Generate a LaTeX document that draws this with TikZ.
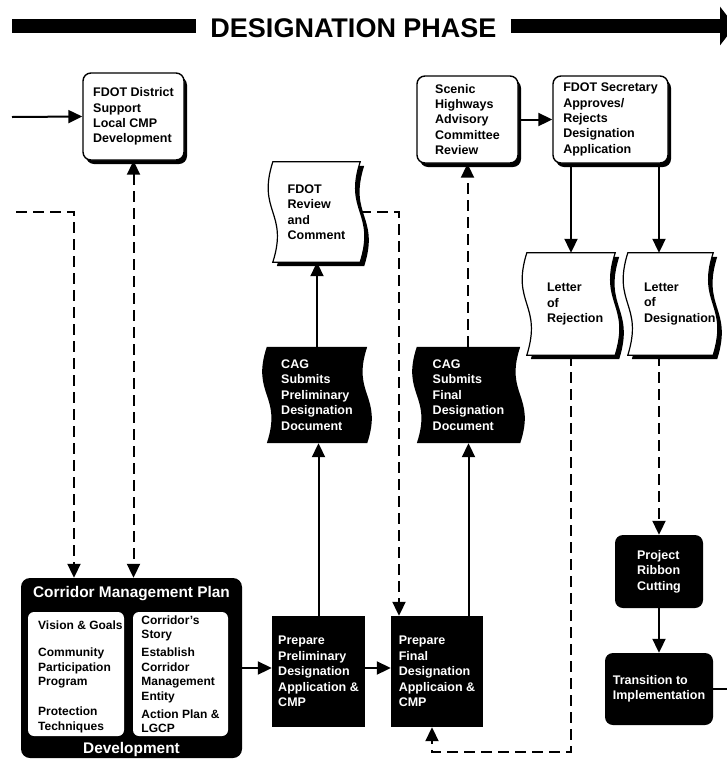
\documentclass[tikz,border=0pt]{standalone}
\usepackage{fontspec}
\setmainfont{Liberation Sans}
\usetikzlibrary{calc,arrows.meta,shadows,backgrounds}

\newcommand{\paperdoc}[3]{%
  \path[#3] let \p1=($(#1.north west)+(#2)$), \p2=($(#1.south east)+(#2)$),
    \p3=($(#1.west)+(#2)$) in
    (\x1,\y1) -- (\x2,\y1)
    .. controls (\x2-16pt,\y3) and (\x2+16pt,\y3) .. (\x2,\y2)
    -- (\x1,\y2)
    .. controls (\x1+16pt,\y3) and (\x1-16pt,\y3) .. (\x1,\y1) -- cycle;}

\tikzset{
  RoundBox/.style={draw, line width=1.4pt, fill=white, rounded corners=8pt,
    inner sep=0pt, align=left,
    drop shadow={shadow xshift=3pt, shadow yshift=-4pt, fill=black, opacity=1}},
  DarkBox/.style={fill=black, text=white, inner sep=0pt, align=left},
  PaperDoc/.style={inner sep=0pt, align=left},
  InnerBox/.style={fill=white, rounded corners=6pt, inner sep=0pt, align=left,
    font=\fontsize{12}{14.5}\selectfont\bfseries},
  FlowEdge/.style={line width=2pt, ->},
  DashEdge/.style={FlowEdge, dash pattern=on 11pt off 6pt},
  TitleBar/.style={line width=14pt},
}

\begin{document}
\begin{tikzpicture}[x=1pt, y=-1pt, >={Triangle[length=14pt,width=13pt]},
    font=\fontsize{12.5}{15.4}\selectfont\bfseries]
\useasboundingbox (0,0) rectangle (727,761);
\clip (0,0) rectangle (727,761);

\node[font=\fontsize{27}{30}\selectfont\bfseries, inner xsep=14pt] (phase) at (353.5,28) {DESIGNATION PHASE};
\coordinate (barleft) at (12,26);
\coordinate (barright) at (735,26);
\draw[TitleBar] (barleft) -- (barleft -| phase.west);
\draw[TitleBar, -{Triangle[length=15pt,width=38pt]}] (barright -| phase.east) -- (barright);

\node[RoundBox, minimum width=101pt, minimum height=87pt] (district) at (133.5,116.5) {FDOT District\\Support\\Local CMP\\Development};
\node[RoundBox, minimum width=101pt, minimum height=87pt] (scenic) at (467.5,119.5) {Scenic\\Highways\\Advisory\\Committee\\Review};
\node[RoundBox, minimum width=115pt, minimum height=87pt] (secretary) at (610.5,119.5) {FDOT Secretary\\Approves/\\Rejects\\Designation\\Application};

\node[PaperDoc, minimum width=87pt, minimum height=100pt] (review) at (316.5,212) {FDOT\\Review\\and\\Comment};
\node[PaperDoc, text=white, minimum width=100pt, minimum height=96pt] (cagprelim) at (317,395) {CAG\\Submits\\Preliminary\\Designation\\Document};
\node[PaperDoc, text=white, minimum width=103pt, minimum height=96pt] (cagfinal) at (468.5,395) {CAG\\Submits\\Final\\Designation\\Document};
\node[PaperDoc, minimum width=88pt, minimum height=102pt, text width=48pt] (rejection) at (571,304) {Letter\\of\\Rejection};
\node[PaperDoc, minimum width=85pt, minimum height=102pt, text width=53pt] (designation) at (670.5,304) {Letter\\of\\Designation};

\node[DarkBox, rounded corners=8pt, minimum width=88pt, minimum height=73pt] (ribbon) at (659,571.5) {Project\\Ribbon\\Cutting};
\node[DarkBox, rounded corners=8pt, minimum width=108pt, minimum height=72pt] (transition) at (659,689) {Transition to\\Implementation};

\node[DarkBox, minimum width=93pt, minimum height=111pt] (prepprelim) at (318.5,671.5) {Prepare\\Preliminary\\Designation\\Application \&\\CMP};
\node[DarkBox, minimum width=92pt, minimum height=111pt] (prepfinal) at (437,671.5) {Prepare\\Final\\Designation\\Applicaion \&\\CMP};

\node[DarkBox, rounded corners=9pt, minimum width=221pt, minimum height=180pt] (cmp) at (131.5,668) {};
\node[text=white, font=\fontsize{15.4}{18}\selectfont\bfseries] (cmptitle) at (131.5,594) {Corridor Management Plan};
\node[text=white, font=\fontsize{15.4}{18}\selectfont\bfseries] (cmpfoot) at (131.5,750) {Development};
\node[InnerBox, minimum width=96pt, minimum height=124pt] (cmpleft) at (76,674) {};
\node[InnerBox, minimum width=95pt, minimum height=124pt] (cmpright) at (180.5,674) {Corridor's\\Story\\[3.5pt]Establish\\Corridor\\Management\\Entity\\[3.5pt]Action Plan \&\\LGCP};
\node[InnerBox, fill=none, anchor=west] (cmplefttext) at (38,677) {Vision \& Goals\\[12.5pt]Community\\Participation\\Program\\[15.5pt]Protection\\Techniques};

\begin{scope}[on background layer]
  \foreach \doc in {review,rejection,designation}{
    \paperdoc{\doc}{4pt,-4pt}{fill=black}
    \paperdoc{\doc}{0pt,0pt}{fill=white, draw=black, line width=1.2pt}
  }
  \paperdoc{cagprelim}{0pt,0pt}{fill=black}
  \paperdoc{cagfinal}{0pt,0pt}{fill=black}
\end{scope}

\coordinate (feedin) at (12,117);
\coordinate (leftloop) at (16,212);
\coordinate (leftdrop) at (74,212);
\coordinate (reviewdrop) at (399,212);
\coordinate (backloop) at (432,752);
\coordinate (offright) at (727,689);

\draw[FlowEdge] (feedin) -- (district.west);
\draw[DashEdge] (leftloop) -- (leftdrop) -- (leftdrop |- cmp.north);
\draw[DashEdge, <->] (district.south) -- (district.south |- cmp.north);
\draw[DashEdge] (review.east) -- (reviewdrop) -- (reviewdrop |- prepfinal.north);
\draw[FlowEdge] (cagprelim.north) -- (cagprelim.north |- review.south);
\draw[FlowEdge] (prepprelim.north) -- (prepprelim.north |- cagprelim.south);
\draw[FlowEdge] (cagfinal.south |- prepfinal.north) -- (cagfinal.south);
\draw[DashEdge] (scenic.south |- cagfinal.north) -- (scenic.south);
\draw[FlowEdge] (scenic.east) -- (scenic.east -| secretary.west);
\draw[FlowEdge] (secretary.south -| rejection.north) -- (rejection.north);
\draw[FlowEdge] (secretary.south -| ribbon.north) -- (designation.north -| ribbon.north);
\draw[DashEdge] (designation.south -| ribbon.north) -- (ribbon.north);
\draw[FlowEdge] (ribbon.south) -- (transition.north);
\draw[line width=2pt] (transition.east) -- (offright);
\draw[FlowEdge] (cmp.east) -- (cmp.east -| prepprelim.west);
\draw[FlowEdge] (prepprelim.east |- cmp.east) -- (prepfinal.west |- cmp.east);
\draw[DashEdge] (rejection.south) -- (rejection.south |- backloop) -- (backloop) -- (backloop |- prepfinal.south);
\end{tikzpicture}
\end{document}
